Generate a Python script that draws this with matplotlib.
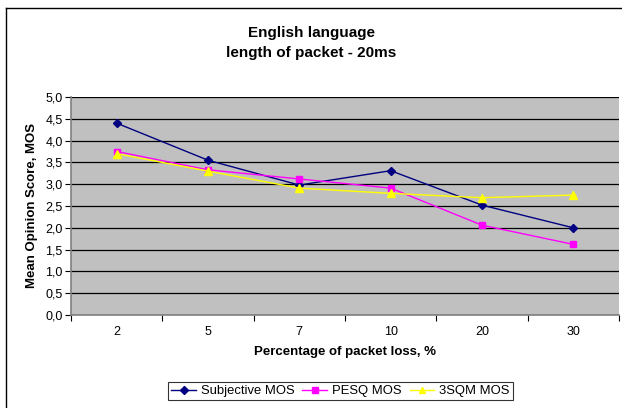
import matplotlib
matplotlib.use("Agg")
import matplotlib.pyplot as plt
from matplotlib.lines import Line2D
from matplotlib.ticker import FixedLocator, FuncFormatter

plt.rcParams["font.family"] = ["Liberation Sans", "DejaVu Sans"]

# packet loss categories and MOS values per method
loss_labels = ["2", "5", "7", "10", "20", "30"]
subjective_mos = [4.40, 3.55, 2.98, 3.31, 2.52, 2.00]
pesq_mos = [3.75, 3.33, 3.12, 2.91, 2.06, 1.62]
sqm_mos = [3.70, 3.30, 2.91, 2.79, 2.69, 2.75]

W, H = 622, 408
fig = plt.figure(figsize=(W / 100, H / 100), dpi=100)

# outer chart frame (left/top edges visible)
fig.add_artist(Line2D([6 / W, 6 / W], [0, 1 - 8 / H], color="black", lw=1.0,
                      transform=fig.transFigure))
fig.add_artist(Line2D([6 / W, 1], [1 - 8 / H, 1 - 8 / H], color="black", lw=1.0,
                      transform=fig.transFigure))

left, right, top, bottom = 71, 619, 97, 315
ax = fig.add_axes([left / W, 1 - bottom / H, (right - left) / W, (bottom - top) / H])
ax.set_facecolor("#c0c0c0")

x = list(range(len(loss_labels)))
ax.plot(x, subjective_mos, color="#000080", lw=1.0, marker="D", ms=4.5,
        label="Subjective MOS", zorder=3)
ax.plot(x, pesq_mos, color="#ff00ff", lw=1.0, marker="s", ms=5,
        label="PESQ MOS", zorder=3)
ax.plot(x, sqm_mos, color="#ffff00", lw=1.0, marker="^", ms=6,
        label="3SQM MOS", zorder=4)

ax.set_xlim(-0.5, len(loss_labels) - 0.5)
ax.set_ylim(0, 5)
ax.yaxis.set_major_locator(FixedLocator([i * 0.5 for i in range(11)]))
ax.yaxis.set_major_formatter(FuncFormatter(lambda v, p: f"{v:.1f}".replace(".", ",")))
ax.grid(axis="y", color="black", lw=0.9)
ax.set_axisbelow(True)

# category labels centred, tick marks between categories
ax.set_xticks(x)
ax.set_xticklabels(loss_labels)
ax.tick_params(axis="x", length=0, pad=8, labelsize=9)
ax.set_xticks([i + 0.5 for i in range(-1, len(loss_labels))], minor=True)
ax.tick_params(axis="x", which="minor", length=4, width=0.8, direction="out")
ax.tick_params(axis="y", length=4, width=0.8, direction="out", labelsize=9, pad=2)

for side in ("top", "right"):
    ax.spines[side].set_visible(False)
ax.spines["left"].set_color("#808080")
ax.spines["bottom"].set_color("#808080")
ax.spines["left"].set_linewidth(1.2)
ax.spines["bottom"].set_linewidth(1.2)

ax.set_xlabel("Percentage of packet loss, %", fontsize=9.5, fontweight="bold", labelpad=6)
ax.set_ylabel("Mean Opinion Score, MOS", fontsize=9.5, fontweight="bold", labelpad=5)

fig.text(311 / W, 1 - 33 / H, "English language", ha="center", va="center",
         fontsize=11, fontweight="bold")
fig.text(311 / W, 1 - 53 / H, "length of packet - 20ms", ha="center", va="center",
         fontsize=11, fontweight="bold")

leg = fig.legend(loc="center left", bbox_to_anchor=(168 / W, 1 - 391 / H), ncol=3,
                 fontsize=9.4, frameon=True, fancybox=False, edgecolor="black",
                 handlelength=1.9, handletextpad=0.38, columnspacing=0.6,
                 borderpad=0.25, borderaxespad=0, markerscale=0.8)
leg.get_frame().set_linewidth(0.8)

fig.savefig("out.png", dpi=100)
